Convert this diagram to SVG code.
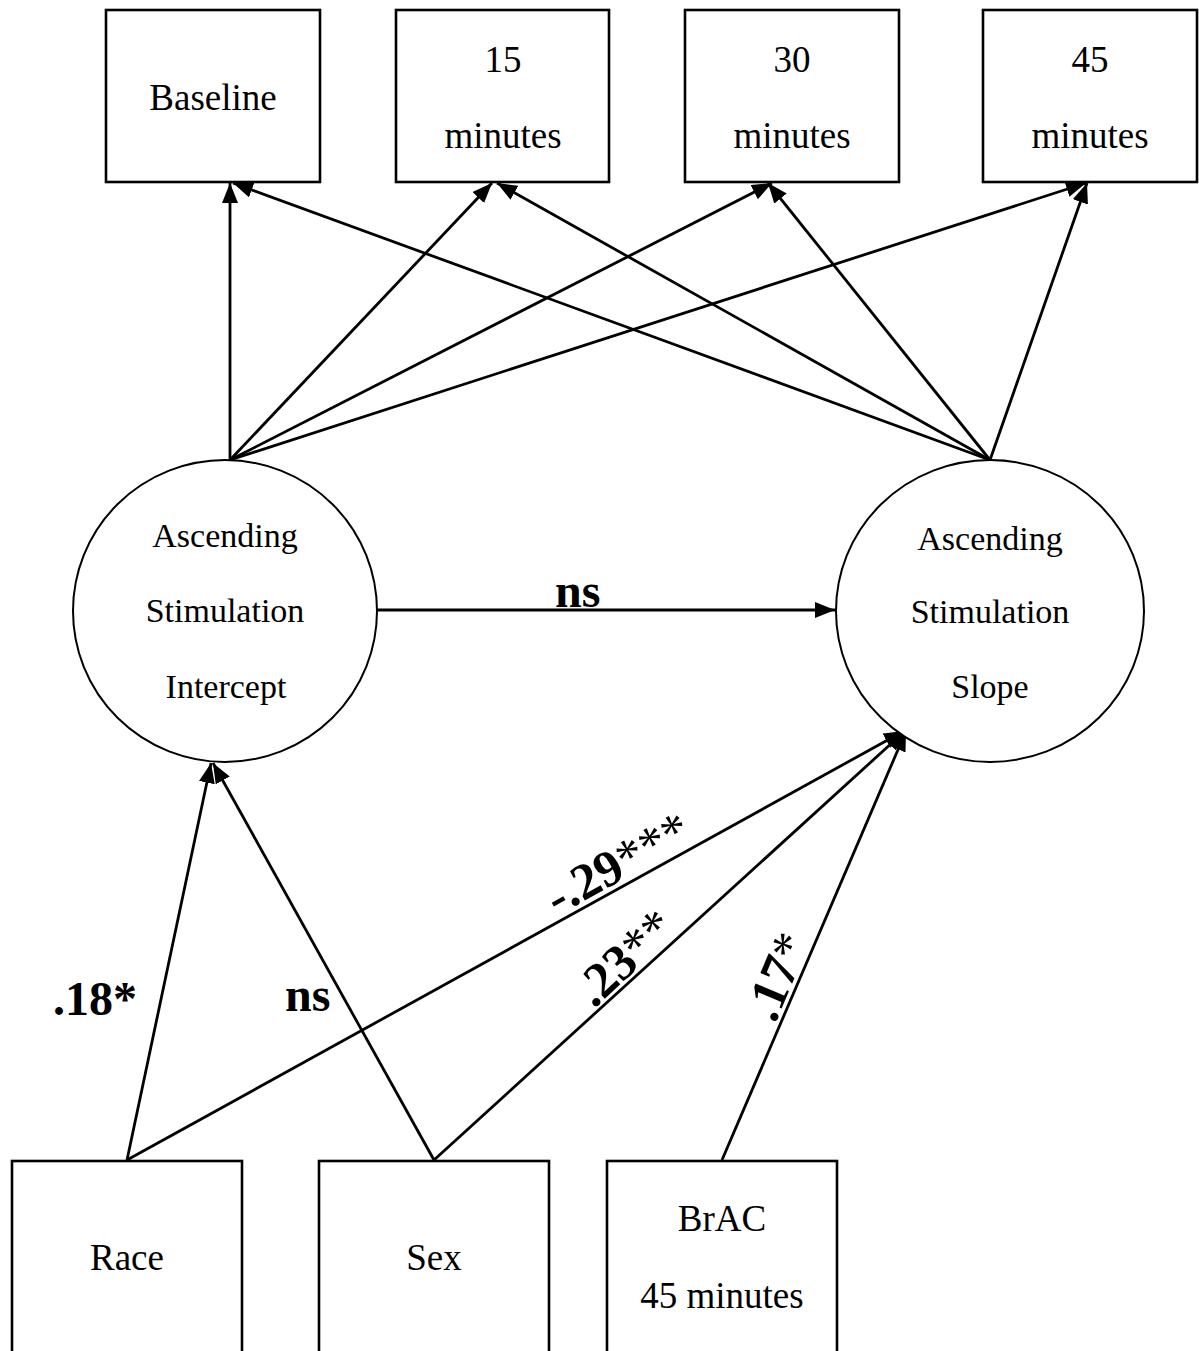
<svg xmlns="http://www.w3.org/2000/svg" width="1199" height="1351" viewBox="0 0 1199 1351">
<style>
.box{fill:#fff;stroke:#000;stroke-width:2.6}
.circ{fill:#fff;stroke:#000;stroke-width:2}
.t{font-family:"Liberation Serif","Times New Roman",serif;font-size:37px;fill:#000;text-anchor:middle}
.c{font-family:"Liberation Serif","Times New Roman",serif;font-size:34px;fill:#000;text-anchor:middle}
.lab{font-family:"Liberation Serif","Times New Roman",serif;font-size:48px;font-weight:bold;fill:#000}
.rl{font-size:51px}
.nb{font-weight:normal}
.edge{stroke:#000;stroke-width:2.8;fill:none;marker-end:url(#ah)}
</style>
<defs>
<marker id="ah" markerUnits="userSpaceOnUse" markerWidth="21" markerHeight="16" refX="20" refY="8" orient="auto">
<path d="M0,0 L20,8 L0,16 z" fill="#000"/>
</marker>
</defs>
<rect width="1199" height="1351" fill="#fff"/>
<g id="connectors">
<line class="edge" x1="230" y1="460" x2="230" y2="183"/>
<line class="edge" x1="230" y1="460" x2="492" y2="183"/>
<line class="edge" x1="230" y1="460" x2="772" y2="183"/>
<line class="edge" x1="230" y1="460" x2="1086" y2="183"/>
<line class="edge" x1="990" y1="460" x2="233" y2="183"/>
<line class="edge" x1="990" y1="460" x2="497" y2="183"/>
<line class="edge" x1="990" y1="460" x2="768" y2="183"/>
<line class="edge" x1="990" y1="460" x2="1087" y2="183"/>
<line class="edge" x1="377" y1="610" x2="835" y2="610"/>
<line class="edge" x1="127" y1="1160" x2="211" y2="763"/>
<line class="edge" x1="434" y1="1160" x2="213" y2="763"/>
<line class="edge" x1="127" y1="1160" x2="904" y2="731"/>
<line class="edge" x1="434" y1="1160" x2="905" y2="731"/>
<line class="edge" x1="722" y1="1160" x2="906" y2="731"/>
<text class="lab" x="555" y="607">ns</text>
<text class="lab" x="53" y="1015">.18*</text>
<text class="lab" x="285" y="1011">ns</text>
<text class="lab rl" transform="translate(557,916) rotate(-29)">-.29<tspan class="nb">***</tspan></text>
<text class="lab rl" transform="translate(594,1009) rotate(-43)">.23<tspan class="nb">**</tspan></text>
<text class="lab rl" transform="translate(775,1024) rotate(-67)">.17<tspan class="nb">*</tspan></text>
</g>
<g id="baseline"><rect class="box" x="106" y="10" width="214" height="172"/><text class="t" x="213" y="110">Baseline</text></g>
<g id="m15"><rect class="box" x="396" y="10" width="213" height="172"/><text class="t" x="503" y="72">15</text><text class="t" x="503" y="148">minutes</text></g>
<g id="m30"><rect class="box" x="685" y="10" width="214" height="172"/><text class="t" x="792" y="72">30</text><text class="t" x="792" y="148">minutes</text></g>
<g id="m45"><rect class="box" x="983" y="10" width="214" height="172"/><text class="t" x="1090" y="72">45</text><text class="t" x="1090" y="148">minutes</text></g>
<g id="intercept"><ellipse class="circ" cx="225" cy="611" rx="152" ry="151"/><text class="c" x="225" y="547">Ascending</text><text class="c" x="225" y="622">Stimulation</text><text class="c" x="226" y="698">Intercept</text></g>
<g id="slope"><ellipse class="circ" cx="990" cy="611" rx="154" ry="151"/><text class="c" x="990" y="550">Ascending</text><text class="c" x="990" y="623">Stimulation</text><text class="c" x="990" y="698">Slope</text></g>
<g id="race"><rect class="box" x="12" y="1161" width="230" height="260"/><text class="t" x="127" y="1270">Race</text></g>
<g id="sex"><rect class="box" x="319" y="1161" width="230" height="260"/><text class="t" x="434" y="1270">Sex</text></g>
<g id="brac"><rect class="box" x="607" y="1161" width="230" height="260"/><text class="t" x="722" y="1231">BrAC</text><text class="t" x="722" y="1308">45 minutes</text></g>
</svg>
